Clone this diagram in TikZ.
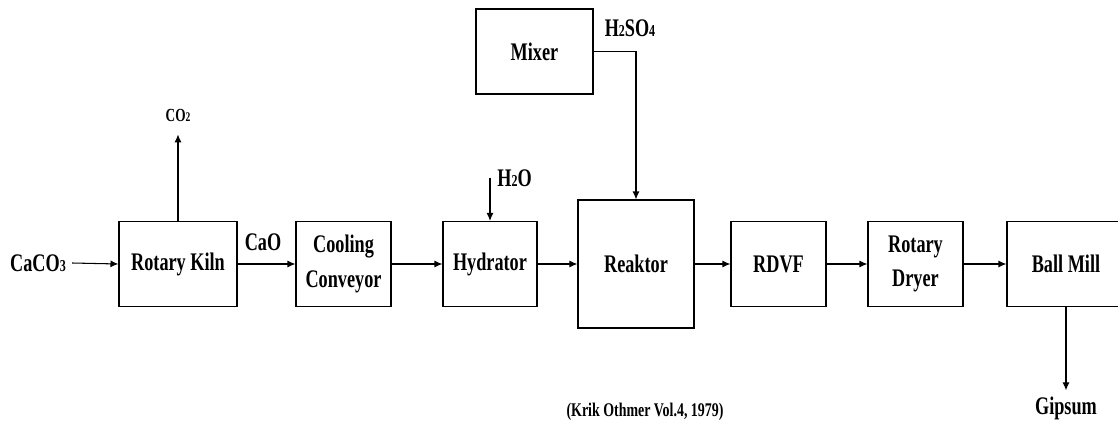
\documentclass[tikz,border=0pt]{standalone}
\usepackage{fontspec}
\setmainfont{Liberation Serif}[FakeStretch=0.72]
\usepackage{tikz}
\usetikzlibrary{arrows.meta}
\newcommand{\chsub}[1]{{\fontsize{9.5}{10}\selectfont #1}}

\begin{document}
\begin{tikzpicture}[
    unitbox/.style={draw=black, line width=0.7pt, fill=white,
      minimum width=1.9cm, minimum height=1.7cm, align=center,
      font=\fontsize{14.4}{19.5}\selectfont\bfseries},
    lbl/.style={font=\fontsize{14.4}{15}\selectfont\bfseries},
    flow/.style={-{Latex[length=4.5pt,width=4pt]}, line width=0.6pt}
  ]

  \useasboundingbox (0,0) rectangle (22.36,-8.46);

  % ══ MAIN LINE ═════════════════════════════════════════════════
  \node[unitbox, minimum width=2.36cm] (kiln)  at ( 3.56,-5.28) {Rotary Kiln};
  \node[unitbox]                       (cool)  at ( 6.87,-5.28) {Cooling\\Conveyor};
  \node[unitbox, minimum width=1.88cm] (hyd)   at ( 9.80,-5.28) {Hydrator};
  \node[unitbox, minimum width=2.32cm, minimum height=2.56cm] (reak) at (12.72,-5.28) {Reaktor};
  \node[unitbox]                       (rdvf)  at (15.57,-5.28) {RDVF};
  \node[unitbox]                       (dryer) at (18.31,-5.28) {Rotary\\Dryer};
  \node[unitbox, minimum width=2.36cm] (mill)  at (21.32,-5.28) {Ball Mill};

  % ══ ACID FEED ═════════════════════════════════════════════════
  \node[unitbox, minimum width=2.34cm] (mixer) at (10.69,-1.03) {Mixer};

  % ══ STREAM LABELS ═════════════════════════════════════════════
  \node[lbl] (caco3) at ( 0.76,-5.26) {CaCO\chsub{3}};
  \node[font=\fontsize{10.5}{11}\selectfont\bfseries] (co2) at (3.56,-2.30)
    {CO{\fontsize{7.5}{8}\selectfont 2}};
  \node[lbl] (cao)   at ( 5.26,-4.84) {CaO};
  \node[lbl] (h2so4) at (12.60,-0.56) {H\chsub{2}SO\chsub{4}};
  \coordinate (h2oin) at (9.80,-3.56);
  \node[lbl, anchor=west, inner sep=1pt] (h2o) at ([xshift=3pt]h2oin) {H\chsub{2}O};
  \node[lbl] (gips)  at (21.32,-8.16) {Gipsum};

  % ══ ARROWS ════════════════════════════════════════════════════
  \draw[flow] (caco3.east) -- (kiln.west);
  \draw[flow] (kiln.north) -- ([yshift=-4pt]co2.south);
  \draw[flow] (kiln.east)  -- (cool.west);
  \draw[flow] (cool.east)  -- (hyd.west);
  \draw[flow] (h2oin)      -- (hyd.north);
  \draw[flow] (hyd.east)   -- (reak.west);
  \draw[flow] (mixer.east) -| (reak.north);
  \draw[flow] (reak.east)  -- (rdvf.west);
  \draw[flow] (rdvf.east)  -- (dryer.west);
  \draw[flow] (dryer.east) -- (mill.west);
  \draw[flow] (mill.south) -- (gips.north);

  % ══ SOURCE ════════════════════════════════════════════════════
  \node[font=\fontsize{11}{12}\selectfont\bfseries] (cite) at (12.90,-8.24)
    {(Krik Othmer Vol.4, 1979)};

\end{tikzpicture}
\end{document}
